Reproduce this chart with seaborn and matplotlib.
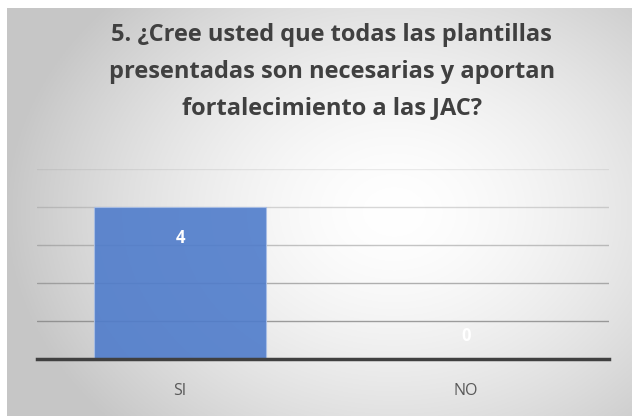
import matplotlib
matplotlib.use("Agg")
import matplotlib.pyplot as plt
import numpy as np
import pandas as pd
import seaborn as sns

categories = ["SI", "NO"]
values = [4, 0]
title = "5. ¿Cree usted que todas las plantillas\npresentadas son necesarias y aportan\nfortalecimiento a las JAC?"

df = pd.DataFrame({"respuesta": categories, "total": values})

sns.set_style("white")
plt.rcParams["font.family"] = ["Open Sans", "DejaVu Sans"]

fig = plt.figure(figsize=(6.32, 4.17), dpi=100)
fig.patch.set_facecolor("white")

# radial gray gradient behind the chart
bg = fig.add_axes([7 / 632, 1 / 417, 625 / 632, 408 / 417])
yy, xx = np.mgrid[0:1:300j, 0:1:400j]
r = np.sqrt(((xx - 0.62) / 0.62) ** 2 + ((yy - 0.5) / 0.75) ** 2)
t = np.clip(r, 0, 1) ** 1.6
white = np.array([1.0, 1.0, 1.0])
gray = np.array([0.78, 0.78, 0.78])
img = white[None, None, :] * (1 - t[..., None]) + gray[None, None, :] * t[..., None]
bg.imshow(img, aspect="auto", extent=[0, 1, 0, 1], origin="upper")
bg.set_axis_off()

ax = fig.add_axes([37 / 632, 1 - 359.3 / 417, 572 / 632, 190 / 417])
ax.set_facecolor("none")

grid_alpha = [0.75, 0.6, 0.45, 0.3, 0.15]
for i, a in zip(range(1, 6), grid_alpha):
    ax.axhline(i, color="#7f7f7f", lw=1, alpha=a, zorder=1)

sns.barplot(data=df, x="respuesta", y="total", ax=ax, color="#4f7ccb",
            width=0.6, saturation=1, alpha=0.9, edgecolor="#a9bfe6",
            linewidth=0.8, zorder=2)

ax.set_ylim(0, 5)
ax.set_xlim(-0.5, 1.5)
ax.set_yticks([])
ax.set_xlabel("")
ax.set_ylabel("")
for s in ["top", "right", "left"]:
    ax.spines[s].set_visible(False)
ax.spines["bottom"].set_color("#404040")
ax.spines["bottom"].set_linewidth(2.5)
ax.spines["bottom"].set_zorder(3)
ax.tick_params(axis="x", length=0, pad=17, labelsize=11.5, labelcolor="#595959")

for i, v in enumerate(values):
    off = -22 if v > 0 else 17
    ax.annotate(str(v), (i, v), xytext=(0, off), textcoords="offset points",
                ha="center", va="center", color="white", fontsize=12,
                fontweight="bold", zorder=4)

fig.text(0.525, 0.828, title, ha="center", va="center", fontsize=17,
         fontweight="bold", color="#404040", linespacing=1.7)

fig.savefig("out.png", dpi=100)
